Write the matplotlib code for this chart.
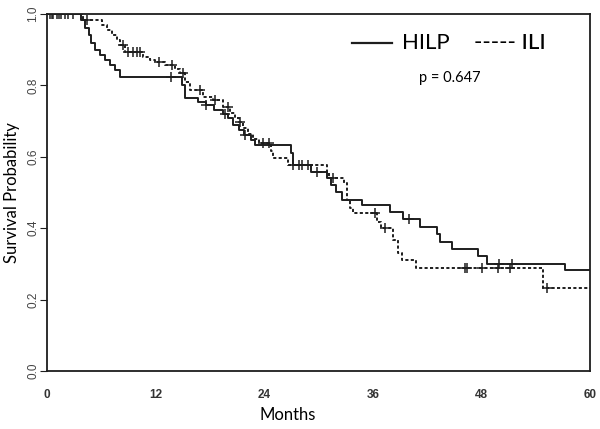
import numpy as np
import matplotlib
matplotlib.use("Agg")
import matplotlib.pyplot as plt
from matplotlib.lines import Line2D

# HILP (solid) - Kaplan-Meier steps
hilp_t = [0, 3.8, 4.2, 4.6, 4.9, 5.3, 5.9, 6.4, 7.0, 7.5, 8.1, 14.9, 15.2, 16.7, 17.6,
          18.5, 19.5, 20.0, 20.6, 21.2, 21.8, 22.5, 23.0, 27.0, 27.2, 29.2, 30.9, 31.4,
          31.9, 32.6, 34.8, 37.9, 39.3, 41.2, 43.1, 43.4, 44.7, 47.6, 48.6, 57.2, 60]
hilp_s = [1.0, 0.983, 0.962, 0.94, 0.918, 0.90, 0.885, 0.871, 0.857, 0.843, 0.824, 0.80,
          0.764, 0.754, 0.745, 0.73, 0.72, 0.71, 0.69, 0.675, 0.66, 0.647, 0.633, 0.61,
          0.577, 0.558, 0.54, 0.52, 0.50, 0.479, 0.465, 0.446, 0.425, 0.404, 0.383, 0.362,
          0.342, 0.323, 0.30, 0.283, 0.283]
hilp_cens = [0.5, 1.3, 2.0, 13.7, 17.6, 19.7, 21.9, 27.2, 29.8, 40.0, 50.0, 51.4]

# ILI (dashed)
ili_t = [0, 4.0, 6.1, 6.6, 7.2, 7.7, 8.1, 8.6, 10.6, 11.4, 11.9, 13.0, 14.2, 14.7, 15.3,
         15.8, 17.2, 18.3, 19.5, 20.2, 20.8, 21.2, 21.7, 22.2, 22.8, 23.4, 24.8, 25.0,
         26.6, 30.9, 31.2, 32.8, 33.1, 33.5, 33.8, 36.5, 36.9, 38.2, 38.8, 39.2, 40.8,
         54.8, 60]
ili_s = [1.0, 0.983, 0.969, 0.955, 0.941, 0.927, 0.913, 0.894, 0.88, 0.872, 0.866, 0.857,
         0.845, 0.835, 0.81, 0.787, 0.768, 0.759, 0.74, 0.722, 0.71, 0.698, 0.68, 0.665,
         0.65, 0.64, 0.615, 0.596, 0.577, 0.558, 0.54, 0.526, 0.479, 0.456, 0.442, 0.418,
         0.40, 0.367, 0.33, 0.311, 0.288, 0.232, 0.232]
ili_cens = [0.3, 0.7, 1.1, 1.6, 2.3, 2.9, 4.4, 8.4, 9.0, 9.5, 9.9, 10.3, 12.4, 13.8, 15.0,
            16.9, 18.6, 20.0, 21.3, 23.9, 24.5, 27.8, 28.2, 28.8, 31.6, 36.2, 37.3, 46.2,
            46.4, 48.1, 49.8, 51.2, 55.2]

x_ticks = [0, 12, 24, 36, 48, 60]
y_ticks = [0.0, 0.2, 0.4, 0.6, 0.8, 1.0]

col = "#1e1e1e"
fig = plt.figure(figsize=(6, 4.29), dpi=100)
ax = fig.add_axes([0.0783, 0.1352, 0.905, 0.8322])


def surv_at(ts, ss, c):
    i = np.searchsorted(ts, c, side="right") - 1
    return np.array(ss)[i]


ax.step(hilp_t, hilp_s, where="post", color=col, lw=1.4)
ax.step(ili_t, ili_s, where="post", color=col, lw=1.4, linestyle=(0, (1.6, 1.2)))
ax.plot(hilp_cens, surv_at(hilp_t, hilp_s, hilp_cens), "+", color=col, ms=7, mew=1.1)
ax.plot(ili_cens, surv_at(ili_t, ili_s, ili_cens), "+", color=col, ms=7, mew=1.1)

ax.set_xlim(0, 60)
ax.set_ylim(0, 1)
ax.set_xticks(x_ticks)
ax.set_yticks(y_ticks)
ax.set_xticklabels([str(v) for v in x_ticks], fontsize=8.5, color="#333333",
                   family="Liberation Sans", fontweight="bold")
ax.set_yticklabels([f"{v:.1f}" for v in y_ticks], fontsize=8.5, color="#444444",
                   family="Liberation Sans", rotation=90, va="center")
ax.tick_params(axis="y", length=5, pad=0.5, color=col)
ax.tick_params(axis="x", length=0, pad=13)
for s in ax.spines.values():
    s.set_color(col)
    s.set_linewidth(1.3)

ax.set_xlabel("Months", fontsize=12, family="Lato", labelpad=6)
ax.xaxis.set_label_coords(0.444, -0.1)
ax.set_ylabel("Survival Probability", fontsize=12, family="Lato", labelpad=5)

# legend drawn as text, like the original
ax.add_line(Line2D([0.562, 0.635], [0.919, 0.919], transform=ax.transAxes,
                   color=col, lw=1.6))
ax.text(0.654, 0.919, "HILP", transform=ax.transAxes, fontsize=16, family="Lato",
        va="center", ha="left")
ax.text(0.786, 0.919, "----- ILI", transform=ax.transAxes, fontsize=16, family="Lato",
        va="center", ha="left", fontweight="medium")
ax.text(0.742, 0.821, "p = 0.647", transform=ax.transAxes, fontsize=10.5, family="Lato",
        va="center", ha="center")

fig.savefig("out.png", dpi=100)
